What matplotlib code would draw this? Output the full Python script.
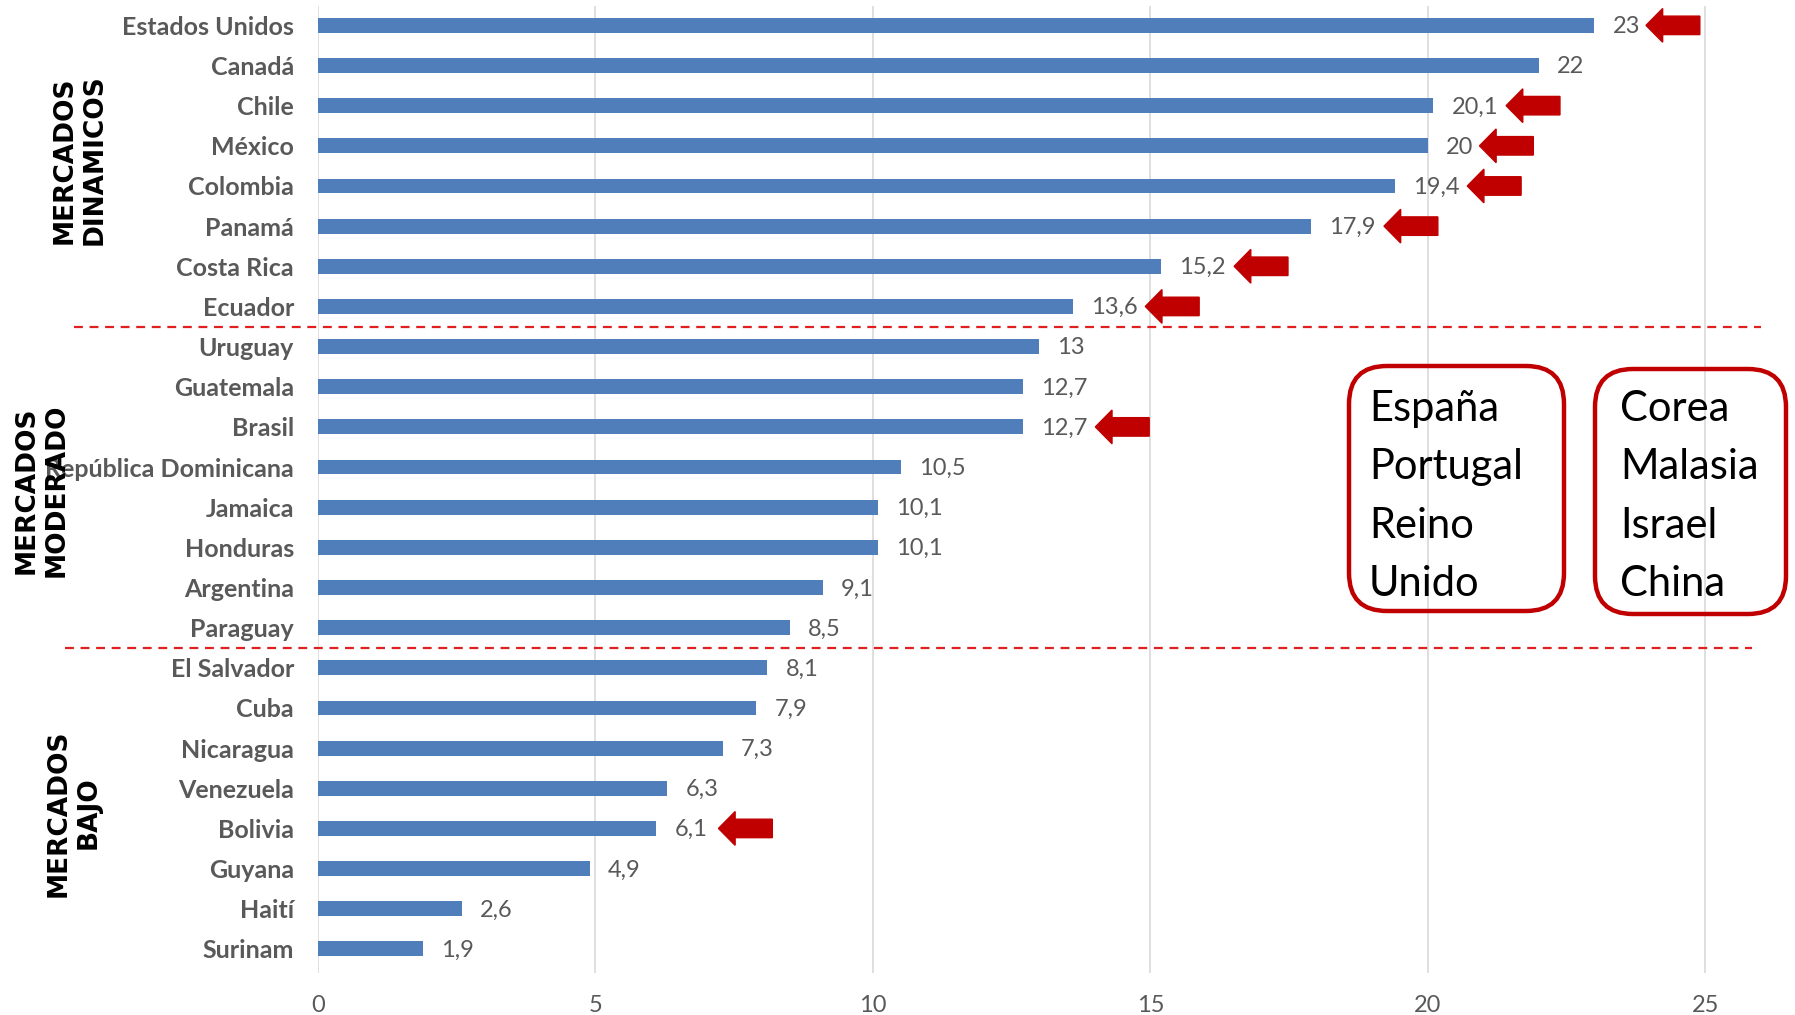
import numpy as np
import matplotlib.pyplot as plt
from matplotlib.patches import Polygon, FancyBboxPatch

countries = ["Estados Unidos", "Canadá", "Chile", "México", "Colombia", "Panamá",
             "Costa Rica", "Ecuador", "Uruguay", "Guatemala", "Brasil",
             "República Dominicana", "Jamaica", "Honduras", "Argentina", "Paraguay",
             "El Salvador", "Cuba", "Nicaragua", "Venezuela", "Bolivia", "Guyana",
             "Haití", "Surinam"]
values = [23, 22, 20.1, 20, 19.4, 17.9, 15.2, 13.6, 13, 12.7, 12.7, 10.5, 10.1,
          10.1, 9.1, 8.5, 8.1, 7.9, 7.3, 6.3, 6.1, 4.9, 2.6, 1.9]
flagged = ["Estados Unidos", "Chile", "México", "Colombia", "Panamá",
           "Costa Rica", "Ecuador", "Brasil", "Bolivia"]
groups = ["MERCADOS\nDINAMICOS", "MERCADOS\nMODERADO", "MERCADOS\nBAJO"]
group_bounds = [7.5, 15.5]  # separators between groups (bar index)
box1 = ["España", "Portugal", "Reino", "Unido"]
box2 = ["Corea", "Malasia", "Israel", "China"]
xticks = [0, 5, 10, 15, 20, 25]

BAR = "#4F7EBB"
RED = "#C00000"
GREY = "#595959"
FONT = ["Lato", "DejaVu Sans"]

fig = plt.figure(figsize=(17.95, 10.15), dpi=100)
ax = fig.add_axes([0.177, 0.0414, 0.804, 0.953])

ypos = np.arange(len(countries))
ax.barh(ypos, values, height=0.37, color=BAR, zorder=2)
ax.set_ylim(23.6, -0.49)
ax.set_xlim(0, 26)

ax.set_yticks(ypos)
ax.set_yticklabels(countries, family=FONT, fontsize=18, fontweight="bold", color=GREY)
ax.set_xticks(xticks)
ax.set_xticklabels([str(t) for t in xticks], family=FONT, fontsize=17, color=GREY)
ax.tick_params(axis="y", length=0, pad=17)
ax.tick_params(axis="x", length=0, pad=16)
for s in ax.spines.values():
    s.set_visible(False)
ax.grid(axis="x", color="#D9D9D9", lw=1.2, zorder=0)

# value labels
labels = []
for y, v in zip(ypos, values):
    lab = f"{v:g}".replace(".", ",")
    labels.append(lab)
    ax.annotate(lab, (v, y), xytext=(13, -1), textcoords="offset points",
                ha="left", va="center", family=FONT, fontsize=17, color=GREY)

# red block arrows pointing left
for name in flagged:
    i = countries.index(name)
    tip = values[i] + 0.55 + 0.19 * len(labels[i])
    L, H, hw, tw = 0.97, 0.30, 0.42, 0.23
    pts = [(tip, i), (tip + H, i - hw), (tip + H, i - tw), (tip + L, i - tw),
           (tip + L, i + tw), (tip + H, i + tw), (tip + H, i + hw)]
    ax.add_patch(Polygon(pts, closed=True, color=RED, zorder=3, clip_on=False))

# dashed group separators
ax.axhline(group_bounds[0], xmin=-0.169, xmax=1.0, color="#E02020", ls=(0, (4, 3)),
           lw=1.6, clip_on=False, zorder=3)
ax.axhline(group_bounds[1], xmin=-0.175, xmax=0.994, color="#E02020", ls=(0, (4, 3)),
           lw=1.6, clip_on=False, zorder=3)

# group labels
group_xy = [(0.80, 8.55), (0.42, 5.25), (0.74, 2.02)]
for g, (gx, gy) in zip(groups, group_xy):
    fig.text(gx, gy, g, transform=fig.dpi_scale_trans, rotation=90, ha="center",
             va="center", multialignment="center", fontsize=19, fontweight="bold",
             color="black", linespacing=1.2)

# rounded boxes with country lists
for (bx, by, bw, bh), tx, items in [((13.49, 4.04, 2.15, 2.45), 13.69, box1),
                                     ((15.95, 4.01, 1.91, 2.45), 16.20, box2)]:
    fig.patches.append(FancyBboxPatch((bx, by), bw, bh,
                                      boxstyle="round,pad=0,rounding_size=0.38",
                                      transform=fig.dpi_scale_trans, fill=False,
                                      ec=RED, lw=3.2))
    for k, t in enumerate(items):
        fig.text(tx, 6.06 - k * 0.583, t, transform=fig.dpi_scale_trans,
                 ha="left", va="center", fontsize=30, family="Lato", color="black")

fig.savefig("out.png", dpi=100)
